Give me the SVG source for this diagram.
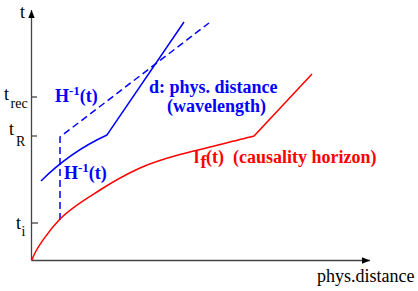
<svg xmlns="http://www.w3.org/2000/svg" width="418" height="291" viewBox="0 0 418 291">
<style>
.ax{stroke:#444;stroke-width:1.3;fill:none}
.blue{stroke:#0000ff;stroke-width:1.5;fill:none}
.dash{stroke-dasharray:7,4}
.red{stroke:#ff0000;stroke-width:1.5;fill:none}
.lbl{font-family:"Liberation Serif","Times New Roman",serif;font-size:18px;fill:#000}
.sub{font-size:14px}
.bb{font-family:"Liberation Serif","Times New Roman",serif;font-size:18px;font-weight:bold;fill:#0000ff}
.rb{font-family:"Liberation Serif","Times New Roman",serif;font-size:18px;font-weight:bold;fill:#ff0000}
</style>
<defs>
<marker id="arr" viewBox="0 0 10 8" refX="10" refY="4" markerWidth="8" markerHeight="6.4" markerUnits="userSpaceOnUse" orient="auto">
<path d="M0,0 L10,4 L0,8 Z" fill="#000"/>
</marker>
</defs>
<g id="axes">
<line class="ax" x1="31.5" y1="260.5" x2="31.5" y2="10" marker-end="url(#arr)"/>
<line class="ax" x1="31.5" y1="260.5" x2="370" y2="260.5" marker-end="url(#arr)"/>
<line class="ax" x1="31.5" y1="97" x2="37" y2="97"/>
<line class="ax" x1="31.5" y1="136" x2="37" y2="136"/>
<line class="ax" x1="31.5" y1="223" x2="38" y2="223"/>
<text class="lbl" x="20" y="18">t</text>
<text class="lbl" x="4" y="100">t<tspan class="sub" x="10.5" y="108">rec</tspan></text>
<text class="lbl" x="9" y="135">t<tspan class="sub" x="16" y="146">R</tspan></text>
<text class="lbl" x="16" y="229">t<tspan class="sub" x="21.5" y="236">i</tspan></text>
<text class="lbl" x="317" y="282">phys.distance</text>
</g>
<g id="connectors">
<path id="d-solid" class="blue" d="M41,181 Q70,152 107,135 L184,22"/>
<path id="h-dashed" class="blue dash" d="M60,220 L60,137 L209,23"/>
<path id="lf-curve" class="red" d="M32,260 C35,250 48.7,230.7 60,219 C71.3,207.3 86.7,198.5 100,190 C113.3,181.5 126.7,174 140,168 C153.3,162 164,158.8 180,154.5 C199,149.5 241.7,139.2 254,136 L312,74"/>
</g>
<g id="label-h1">
<text class="bb" x="55" y="102">H<tspan font-size="13" dy="-7">-1</tspan><tspan dy="7">(t)</tspan></text>
</g>
<g id="label-h2">
<text class="bb" x="64" y="179">H<tspan font-size="13" dy="-7">-1</tspan><tspan dy="7">(t)</tspan></text>
</g>
<g id="label-d">
<text class="bb" x="149" y="93">d: phys. distance</text>
<text class="bb" x="167" y="112">(wavelength)</text>
</g>
<g id="label-lf">
<text class="rb" x="194" y="163" font-family="'Liberation Mono',monospace" font-size="16" font-weight="normal">l</text>
<text class="rb" x="200.5" y="168" font-size="13">f</text>
<text class="rb" x="206" y="163">(t)</text>
<text class="rb" x="233" y="163">(causality horizon)</text>
</g>
</svg>
